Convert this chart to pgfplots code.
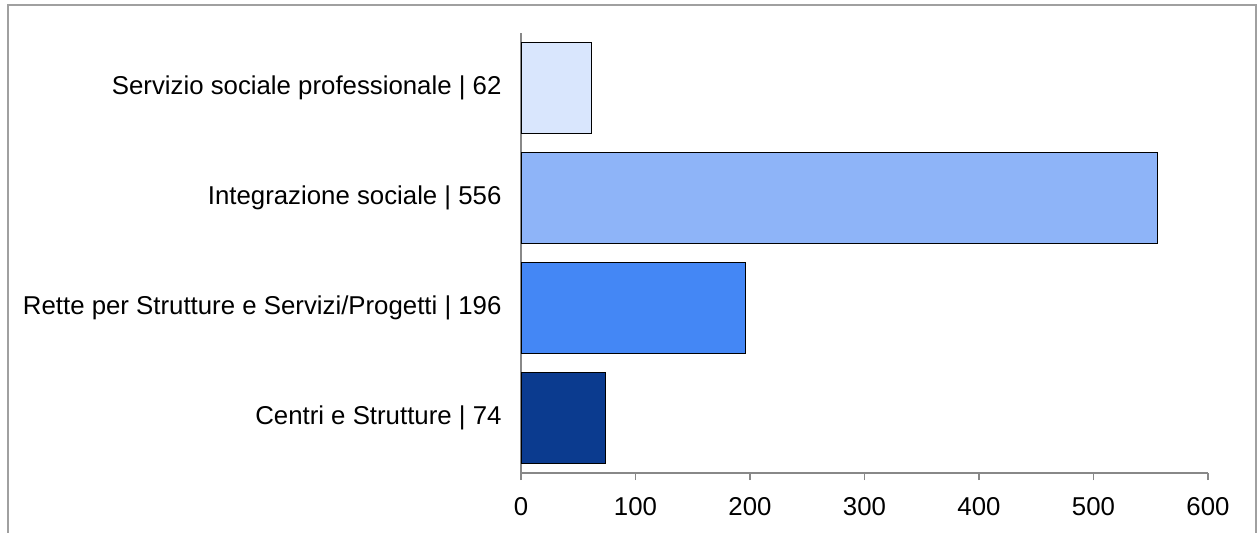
\documentclass[border=0pt]{standalone}
\usepackage{fontspec}
\setmainfont{Liberation Sans}
\usepackage{pgfplots}
\pgfplotsset{compat=1.18}
\definecolor{axgray}{HTML}{888888}
\definecolor{frame}{HTML}{A0A0A0}
\definecolor{c1}{HTML}{D9E6FD}
\definecolor{c2}{HTML}{8EB4F8}
\definecolor{c3}{HTML}{4487F5}
\definecolor{c4}{HTML}{0B3B8F}
\begin{document}
\begin{tikzpicture}
\useasboundingbox (0,0) rectangle (1257bp,533bp);
\draw[frame, line width=1.5bp] (8bp,0) -- (8bp,528bp) -- (1256bp,528bp) -- (1256bp,0);
\begin{axis}[
  at={(521bp,60bp)}, anchor=south west,
  scale only axis, width=687bp, height=440bp,
  xbar, bar width=0.83, bar shift=0pt,
  xmin=0, xmax=600, ymin=0.5, ymax=4.5,
  xtick={0,100,...,600},
  ytick={1,2,3,4},
  yticklabels={Centri e Strutture | 74, Rette per Strutture e Servizi/Progetti | 196, Integrazione sociale | 556, Servizio sociale professionale | 62},
  minor ytick={0.5,1.5,...,4.5},
  axis lines=left, axis line style={-, axgray, line width=1.2bp},
  tick align=outside,
  major tick length=7bp, minor tick length=6bp,
  tick style={axgray, line width=1.2bp},
  ytick style={draw=none},
  minor tick style={draw=axgray, line width=1.2bp},
  font=\fontsize{25.8bp}{30bp}\selectfont,
  /pgf/number format/assume math mode=true,
  xticklabel style={yshift=-14bp},
  yticklabel style={xshift=-9bp},
  clip=false,
]
\addplot[fill=c4, draw=black, line width=1bp] coordinates {(74,1)};
\addplot[fill=c3, draw=black, line width=1bp] coordinates {(196,2)};
\addplot[fill=c2, draw=black, line width=1bp] coordinates {(556,3)};
\addplot[fill=c1, draw=black, line width=1bp] coordinates {(62,4)};
\end{axis}
\end{tikzpicture}
\end{document}
